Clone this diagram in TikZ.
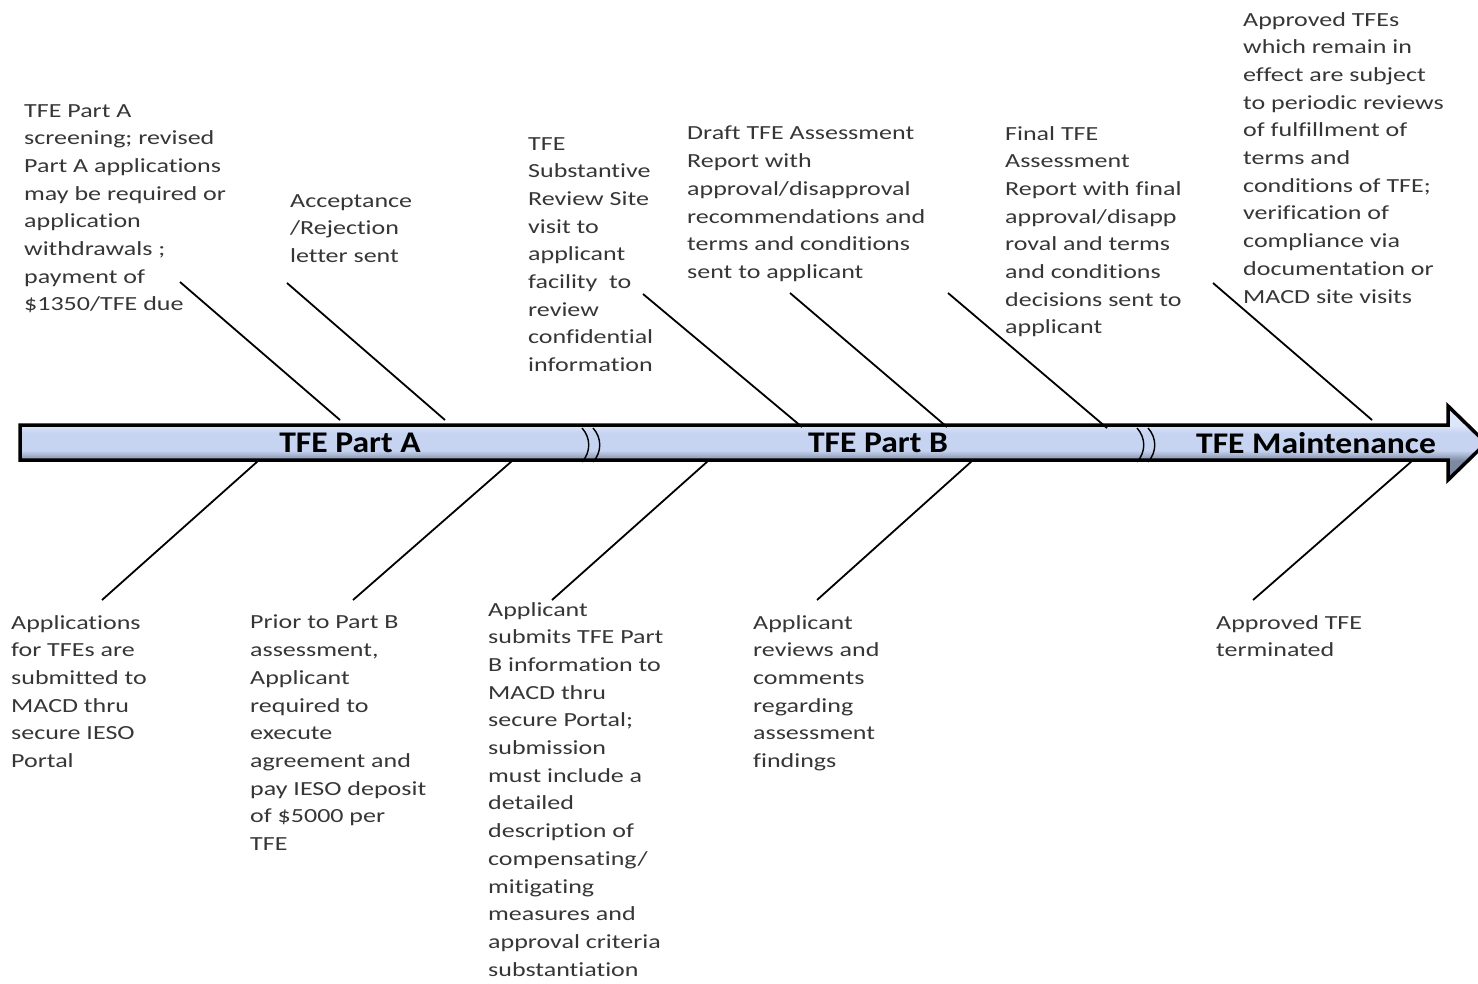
\documentclass[tikz,border=0pt]{standalone}
\usepackage{fontspec}
\setmainfont{Carlito}[FakeStretch=1.3, Ligatures=NoCommon]
\newfontfamily\barfont{Carlito}[FakeStretch=1.12, Ligatures=NoCommon]
\usetikzlibrary{calc}
\definecolor{TxtG}  {HTML}{363636}
\definecolor{BarTop}{HTML}{DEE7FA}
\definecolor{BarMid}{HTML}{C6D4F2}
\definecolor{BarBot}{HTML}{7D89A1}
\pgfdeclareverticalshading{barshade}{100bp}{color(0bp)=(BarBot); color(38bp)=(BarBot);
  color(45bp)=(BarMid); color(57bp)=(BarMid); color(62bp)=(BarTop); color(100bp)=(BarTop)}
\tikzset{
  note/.style={
    anchor=north west, align=left, inner sep=0pt,
    text=TxtG, font=\fontsize{20}{27.7}\selectfont,
  },
  phase/.style={
    inner sep=0pt, text=black,
    font=\barfont\bfseries\fontsize{30}{30}\selectfont,
  },
  lead/.style={line width=1.8pt, color=black},
  brk/.style={line width=1.4pt, color=black},
  bar/.style={
    draw=black, line width=3.5pt, shading=barshade,
  },
}

\begin{document}
\begin{tikzpicture}[x=1pt,y=-1pt]
  \useasboundingbox (0,0) rectangle (1478,984);

  % timeline bar
  \draw[bar] (20,425) -- (1448,425) -- (1448,406) -- (1486,443)
             -- (1448,480) -- (1448,460) -- (20,460) -- cycle;
  \foreach \x in {582,593,1137,1148}{
    \draw[brk] (\x,428) .. controls (\x+9,438) and (\x+9,452) .. (\x,462);
  }
  \node[phase] (partA) at (350,443) {TFE Part A};
  \node[phase] (partB) at (878,443) {TFE Part B};
  \node[phase] (maint) at (1316,443) {TFE Maintenance};

  % notes above the bar
  \node[note] (screen) at (24,104) {TFE Part A\\screening; revised\\Part A applications\\may be required or\\application\\withdrawals ;\\payment of\\\$1350/TFE due};
  \node[note] (accept) at (290,194) {Acceptance\\/Rejection\\letter sent};
  \node[note] (visit) at (528,137) {TFE\\Substantive\\Review Site\\visit to\\applicant\\facility\ \ to\\review\\confidential\\information};
  \node[note] (draft) at (687,126) {Draft TFE Assessment\\Report with\\approval/disapproval\\recommendations and\\terms and conditions\\sent to applicant};
  \node[note] (final) at (1005,126) {Final TFE\\Assessment\\Report with final\\approval/disapp\\roval and terms\\and conditions\\decisions sent to\\applicant};
  \node[note] (periodic) at (1243,12) {Approved TFEs\\which remain in\\effect are subject\\to periodic reviews\\of fulfillment of\\terms and\\conditions of TFE;\\verification of\\compliance via\\documentation or\\MACD site visits};

  % notes below the bar
  \node[note] (apply) at (11,615) {Applications\\for TFEs are\\submitted to\\MACD thru\\secure IESO\\Portal};
  \node[note] (deposit) at (250,615) {Prior to Part B\\assessment,\\Applicant\\required to\\execute\\agreement and\\pay IESO deposit\\of \$5000 per\\TFE};
  \node[note] (submitB) at (488,602) {Applicant\\submits TFE Part\\B information to\\MACD thru\\secure Portal;\\submission\\must include a\\detailed\\description of\\compensating/\\mitigating\\measures and\\approval criteria\\substantiation};
  \node[note] (comment) at (753,615) {Applicant\\reviews and\\comments\\regarding\\assessment\\findings};
  \node[note] (termin) at (1216,615) {Approved TFE\\terminated};

  % leader lines
  \foreach \n/\sx/\sy/\ex/\ey in {screen/180/282/340/420, accept/287/283/445/420,
                                  visit/643/294/802/427, draft/790/293/947/427,
                                  final/948/293/1107/428, periodic/1213/283/1372/420,
                                  apply/258/461/102/600, deposit/512/461/353/600,
                                  submitB/708/461/552/600, comment/972/461/817/600,
                                  termin/1412/461/1253/600}{
    \coordinate (\n-s) at (\sx,\sy);
    \coordinate (\n-e) at (\ex,\ey);
    \draw[lead] (\n-s) -- (\n-e);
  }
\end{tikzpicture}
\end{document}
